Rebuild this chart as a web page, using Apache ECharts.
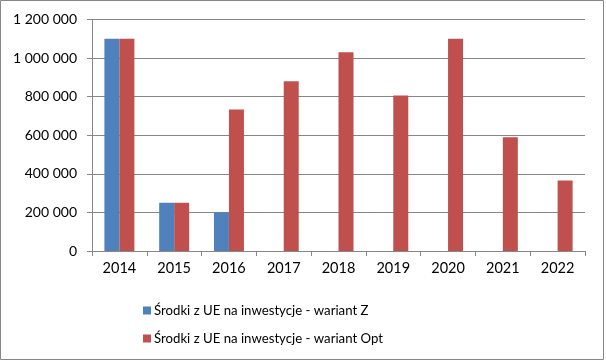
<!DOCTYPE html>
<html>
<head>
<meta charset="utf-8">
<script src="https://cdn.jsdelivr.net/npm/echarts@6/dist/echarts.min.js"></script>
<style>
html,body{margin:0;padding:0;background:#fff;}
#chart{width:606px;height:361px;}
</style>
</head>
<body>
<div id="chart"></div>
<script>
const categories = ['2014','2015','2016','2017','2018','2019','2020','2021','2022'];
const seriesNames = ['Środki z UE na inwestycje - wariant Z', 'Środki z UE na inwestycje - wariant Opt'];
const valuesZ = [1100000, 250000, 200000, null, null, null, null, null, null];
const valuesOpt = [1100000, 250000, 733000, 880000, 1030000, 806000, 1100000, 590000, 365000];
const yTicks = [0, 200000, 400000, 600000, 800000, 1000000, 1200000];

const chart = echarts.init(document.getElementById('chart'), null, {renderer: 'canvas'});
const font = 'Lato';
function fmt(v){ return String(v).replace(/\B(?=(\d{3})+(?!\d))/g, ' '); }

chart.setOption({
  animation: false,
  backgroundColor: '#ffffff',
  graphic: [{
    type: 'rect', silent: true,
    shape: {x: 0.5, y: 0.5, width: 603, height: 359},
    style: {fill: 'none', stroke: '#868686', lineWidth: 1}
  }],
  grid: {left: 92, right: 21, top: 19.5, bottom: 110, containLabel: false},
  legend: {
    orient: 'vertical',
    left: 138, top: 297,
    itemWidth: 8, itemHeight: 8, itemGap: 11,
    icon: 'rect',
    textStyle: {fontFamily: font, fontSize: 13.2, color: '#000', lineHeight: 17, padding: [0,0,0,-2]},
    data: seriesNames
  },
  xAxis: {
    type: 'category',
    data: categories,
    boundaryGap: true,
    axisLine: {lineStyle: {color: '#868686', width: 1}},
    axisTick: {show: true, length: 5, alignWithLabel: false, lineStyle: {color: '#868686'}},
    axisLabel: {fontFamily: font, fontSize: 14.5, color: '#000', margin: 10}
  },
  yAxis: {
    type: 'value',
    min: yTicks[0], max: yTicks[yTicks.length-1], interval: 200000,
    axisLine: {show: true, lineStyle: {color: '#868686', width: 1}},
    axisTick: {show: true, length: 5, lineStyle: {color: '#868686'}},
    splitLine: {lineStyle: {color: '#868686', width: 1}},
    axisLabel: {fontFamily: font, fontSize: 14, color: '#000', margin: 15, formatter: fmt}
  },
  series: [
    {name: seriesNames[0], type: 'bar', data: valuesZ, barWidth: 15, barGap: '0%',
     itemStyle: {color: '#4F81BD'}},
    {name: seriesNames[1], type: 'bar', data: valuesOpt, barWidth: 15, barGap: '0%',
     itemStyle: {color: '#C0504D'}}
  ]
});
</script>
</body>
</html>
